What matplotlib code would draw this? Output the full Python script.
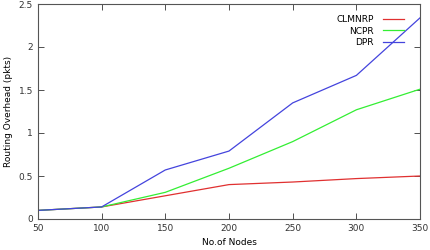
import matplotlib
matplotlib.use("Agg")
import matplotlib.pyplot as plt

nodes = [50, 100, 150, 200, 250, 300, 350]
clmnrp = [0.10, 0.14, 0.27, 0.40, 0.43, 0.47, 0.50]
ncpr = [0.10, 0.14, 0.31, 0.59, 0.90, 1.27, 1.51]
dpr = [0.10, 0.14, 0.57, 0.79, 1.35, 1.67, 2.34]

plt.rcParams['font.family'] = ['DejaVu Sans']
plt.rcParams['font.size'] = 6.5

fig = plt.figure(figsize=(4.3, 2.5), dpi=100)
ax = fig.add_axes([0.088, 0.124, 0.889, 0.86])

ax.plot(nodes, clmnrp, color='#e03030', lw=0.9, label='CLMNRP')
ax.plot(nodes, ncpr, color='#33ee33', lw=0.9, label='NCPR')
ax.plot(nodes, dpr, color='#4444dd', lw=0.9, label='DPR')

ax.set_xlim(50, 350)
ax.set_ylim(0, 2.5)
ax.set_xticks(nodes)
ax.set_yticks([0, 0.5, 1, 1.5, 2, 2.5])
ax.set_yticklabels(['0', '0.5', '1', '1.5', '2', '2.5'])
ax.tick_params(direction='in', top=True, right=True, length=4, width=0.6, colors='#333333')
for s in ax.spines.values():
    s.set_color('#555555')
    s.set_linewidth(0.8)

ax.set_xlabel('No.of Nodes', labelpad=4)
ax.set_ylabel('Routing Overhead (pkts)', labelpad=4)

ax.legend(loc='upper right', bbox_to_anchor=(0.98, 0.985), frameon=False,
          markerfirst=False, handlelength=2.4, labelspacing=0.25,
          handletextpad=1.0, fontsize=6.5)

fig.savefig('out.png', dpi=100)
